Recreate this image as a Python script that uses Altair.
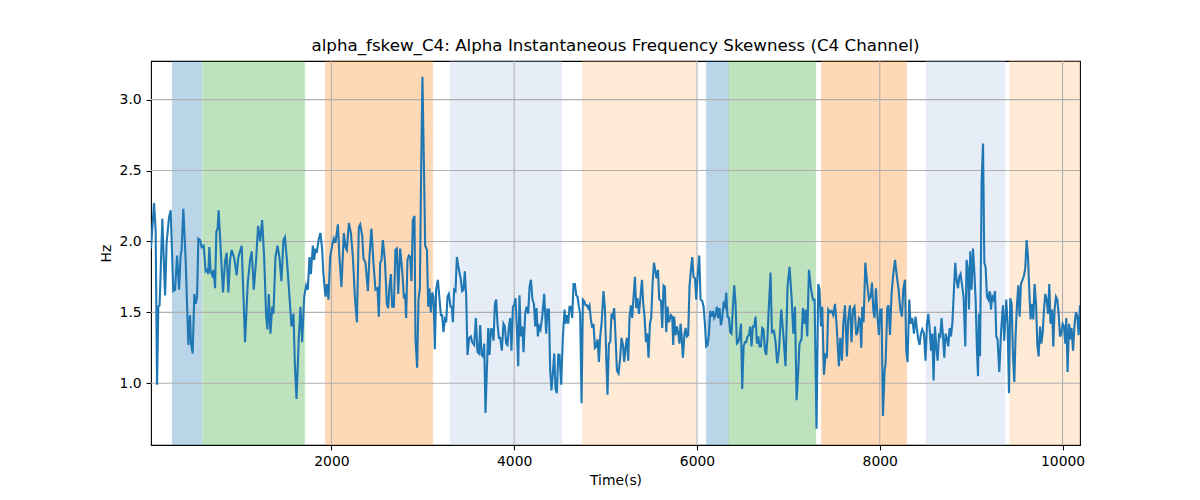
import altair as alt
import pandas as pd

# ---- signal: time (s) and alpha instantaneous-frequency skewness (Hz) ----
time_1 = [26, 59, 77, 92, 106, 120, 150, 180, 197, 223, 241, 270, 289, 311, 333, 350, 361, 380, 405, 435,
          453, 464, 482, 500, 515, 530, 544, 563, 580, 602, 624, 639, 654, 664, 679, 697, 712, 727, 741, 755,
          766, 785, 814, 836, 854, 872, 891, 909, 938, 963, 982, 1018, 1055, 1084, 1110, 1128]
hz_1 = [1.95, 2.27, 2.08, 0.99, 1.54, 1.55, 2.16, 1.62, 1.99, 2.17, 2.22, 1.65, 1.66, 1.90, 1.66, 1.90, 1.94, 2.23, 1.87, 1.27,
        1.48, 1.28, 1.21, 1.63, 1.56, 1.61, 2.02, 2.01, 1.96, 1.97, 1.79, 1.80, 1.77, 1.96, 1.79, 1.76, 1.80, 1.67, 2.07, 2.09,
        2.22, 1.99, 1.64, 1.86, 1.92, 1.64, 1.87, 1.94, 1.88, 1.76, 1.89, 1.97, 1.29, 1.70, 1.87, 1.93]

time_2 = [1151, 1176, 1198, 1220, 1242, 1264, 1286, 1300, 1315, 1333, 1352, 1366, 1388, 1410, 1431, 1453, 1475, 1491, 1512, 1534,
          1563, 1585, 1600, 1618, 1644, 1661, 1680, 1702, 1724, 1742, 1760, 1775, 1797, 1811, 1825, 1841, 1863, 1880, 1899, 1913,
          1935, 1950, 1968, 1986, 2008, 2027, 2044, 2071, 2088, 2110, 2136, 2154, 2169, 2191, 2213, 2235, 2257]
hz_2 = [1.66, 1.87, 2.11, 2.00, 2.15, 1.89, 1.47, 1.38, 1.63, 1.35, 1.54, 1.49, 1.89, 1.97, 1.89, 1.72, 2.01, 2.03, 1.88, 1.68,
        1.40, 1.49, 1.14, 0.89, 1.33, 1.54, 1.29, 1.61, 1.69, 1.66, 1.89, 1.77, 1.97, 1.87, 1.94, 1.93, 2.02, 2.06, 1.94, 1.77,
        1.61, 1.70, 1.59, 1.89, 1.97, 2.02, 1.99, 2.12, 1.89, 1.68, 2.06, 1.96, 1.94, 2.13, 2.06, 1.89, 1.61]

time_3 = [2279, 2300, 2315, 2337, 2351, 2373, 2399, 2416, 2438, 2460, 2482, 2504, 2519, 2534, 2548, 2563, 2585, 2607, 2621, 2635,
          2651, 2665, 2683, 2701, 2716, 2731, 2752, 2774, 2793, 2807, 2818, 2832, 2848, 2862, 2876, 2891, 2909, 2920, 2938, 2953,
          2968, 2982, 2996, 3012, 3026, 3045, 3059, 3073, 3088, 3103, 3117, 3132, 3146, 3165, 3183, 3198, 3212, 3226, 3242, 3256,
          3270, 3285, 3303, 3318, 3329, 3343, 3358, 3373, 3395, 3412]
hz_3 = [1.43, 2.10, 2.12, 2.04, 1.88, 1.85, 1.65, 1.89, 2.09, 1.85, 1.66, 1.67, 1.47, 1.85, 1.87, 2.01, 1.87, 1.56, 1.53, 1.68,
        1.77, 1.54, 1.54, 1.94, 1.95, 1.63, 1.95, 1.80, 1.61, 1.62, 1.46, 1.87, 1.90, 1.89, 1.72, 2.15, 2.18, 1.31, 1.11, 1.59,
        1.67, 2.50, 3.16, 2.55, 1.97, 1.94, 1.54, 1.67, 1.50, 1.64, 1.61, 1.24, 1.66, 1.73, 1.59, 1.48, 1.48, 1.36, 1.45, 1.43,
        1.61, 1.63, 1.54, 1.54, 1.43, 1.66, 1.65, 1.89, 1.80, 1.75]

time_4 = [3431, 3445, 3460, 3475, 3489, 3508, 3526, 3540, 3562, 3581, 3598, 3614, 3628, 3642, 3657, 3672, 3686, 3701, 3716, 3730,
          3745, 3759, 3774, 3789, 3803, 3817, 3833, 3847, 3865, 3883, 3898, 3912, 3927, 3942, 3956, 3970, 3986, 4000, 4014, 4030,
          4044, 4058, 4073, 4088, 4102, 4120, 4135, 4153, 4168, 4183, 4200, 4216, 4230, 4244, 4259, 4274, 4288, 4307, 4328, 4350,
          4364, 4380, 4394, 4408, 4424, 4438, 4452, 4467, 4482, 4496, 4514, 4533, 4551]
hz_4 = [1.65, 1.66, 1.79, 1.61, 1.20, 1.32, 1.33, 1.29, 1.27, 1.46, 1.22, 1.21, 1.41, 1.20, 1.19, 1.28, 0.79, 1.09, 1.39, 1.20,
        1.38, 1.38, 1.30, 1.56, 1.59, 1.42, 1.32, 1.32, 1.23, 1.42, 1.40, 1.28, 1.27, 1.40, 1.46, 1.23, 1.54, 1.55, 1.60, 1.38,
        1.12, 1.62, 1.33, 1.40, 1.22, 1.49, 1.54, 1.49, 1.68, 1.73, 1.59, 1.56, 1.40, 1.53, 1.33, 1.40, 1.38, 1.47, 1.63, 1.35,
        1.52, 1.52, 1.09, 0.95, 1.08, 1.21, 0.96, 0.93, 1.20, 1.20, 0.99, 1.33, 1.52]

time_5 = [4561, 4577, 4591, 4605, 4621, 4635, 4649, 4664, 4679, 4693, 4708, 4722, 4737, 4752, 4766, 4780, 4796, 4810, 4824, 4839,
          4854, 4868, 4883, 4897, 4912, 4927, 4941, 4956, 4977, 4993, 5007, 5021, 5036, 5051, 5065, 5080, 5094, 5109, 5124, 5142,
          5160, 5174, 5190, 5204, 5218, 5233, 5248, 5262, 5277, 5291, 5306, 5321, 5335, 5349, 5365, 5379, 5398, 5412, 5426, 5442,
          5456, 5470, 5485, 5499, 5514, 5529, 5543, 5557, 5573, 5587, 5606, 5620, 5634, 5649, 5664, 5678]
hz_5 = [1.42, 1.48, 1.42, 1.54, 1.54, 1.46, 1.70, 1.70, 1.62, 1.61, 1.54, 1.49, 0.86, 1.59, 1.58, 1.55, 1.55, 1.53, 1.55, 1.45,
        1.39, 1.42, 1.25, 1.26, 1.31, 1.15, 1.33, 1.42, 1.65, 1.52, 1.19, 0.92, 1.28, 1.29, 1.49, 1.47, 1.53, 1.33, 1.09, 1.07,
        1.18, 1.32, 1.27, 1.15, 1.25, 1.32, 1.16, 1.47, 1.55, 1.46, 1.61, 1.75, 1.53, 1.60, 1.49, 1.59, 1.73, 1.56, 1.47, 1.29,
        1.35, 1.18, 1.42, 1.46, 1.70, 1.85, 1.80, 1.74, 1.80, 1.59, 1.58, 1.39, 1.69, 1.68, 1.36, 1.54]

time_6 = [5693, 5715, 5729, 5740, 5751, 5765, 5781, 5795, 5809, 5820, 5831, 5846, 5861, 5875, 5890, 5904, 5918, 5934, 5948, 5962,
          5978, 5992, 6006, 6025, 6039, 6058, 6072, 6087, 6101, 6116, 6131, 6145, 6159, 6175, 6189, 6203, 6218, 6233, 6247, 6262,
          6276, 6291, 6306, 6320, 6334, 6350, 6364, 6378, 6393, 6408, 6422, 6437, 6452, 6466, 6481, 6495, 6510, 6525, 6539, 6553,
          6569, 6583, 6597, 6612, 6627, 6641, 6656, 6671, 6685, 6700, 6714, 6728, 6744, 6758, 6772, 6788, 6805, 6820]
hz_6 = [1.43, 1.48, 1.47, 1.27, 1.47, 1.34, 1.40, 1.35, 1.28, 1.42, 1.35, 1.18, 1.33, 1.39, 1.33, 1.34, 1.68, 1.80, 1.89, 1.75,
        1.74, 1.59, 1.75, 1.90, 1.59, 1.58, 1.54, 1.42, 1.26, 1.27, 1.35, 1.51, 1.47, 1.51, 1.46, 1.48, 1.54, 1.46, 1.53, 1.41,
        1.46, 1.56, 1.54, 1.64, 1.47, 1.46, 1.36, 1.35, 1.54, 1.69, 1.56, 1.28, 1.29, 1.33, 1.42, 0.96, 1.26, 1.29, 1.29, 1.33,
        1.34, 1.40, 1.26, 1.40, 1.40, 1.47, 1.28, 1.33, 1.26, 1.26, 1.39, 1.38, 1.23, 1.20, 1.33, 1.56, 1.78, 1.36]

time_7 = [6842, 6860, 6878, 6897, 6922, 6944, 6969, 6991, 7013, 7035, 7054, 7072, 7090, 7108, 7122, 7144, 7159, 7174, 7188, 7207,
          7225, 7247, 7269, 7287, 7308, 7327, 7341, 7357, 7371, 7389, 7407, 7422, 7436, 7455, 7473, 7491, 7510, 7527, 7553, 7568,
          7586, 7601, 7619, 7641, 7655, 7674, 7691, 7707, 7724, 7743, 7757, 7773, 7784, 7798, 7809, 7823, 7842, 7863, 7882, 7900,
          7915, 7929, 7943, 7958]
hz_7 = [1.37, 1.29, 1.14, 1.23, 1.52, 1.35, 1.12, 1.68, 1.82, 1.61, 1.35, 1.54, 0.88, 1.09, 1.28, 1.31, 1.53, 1.42, 1.52, 1.33,
        1.80, 1.67, 1.59, 1.59, 0.68, 1.70, 1.66, 1.40, 1.54, 1.06, 1.20, 1.19, 1.52, 1.50, 1.51, 1.48, 1.56, 1.42, 1.12, 1.32,
        1.16, 1.42, 1.55, 1.19, 1.45, 1.55, 1.29, 1.52, 1.54, 1.34, 1.36, 1.46, 1.45, 1.25, 1.54, 1.43, 1.85, 1.70, 1.59, 1.61,
        1.71, 1.52, 1.46, 1.67]

time_8 = [7976, 7991, 8006, 8020, 8035, 8053, 8064, 8082, 8096, 8112, 8129, 8148, 8167, 8184, 8206, 8225, 8243, 8257, 8276, 8290,
          8304, 8323, 8337, 8356, 8374, 8392, 8407, 8421, 8436, 8450, 8465, 8484, 8501, 8517, 8531, 8545, 8561, 8575, 8589, 8604,
          8618, 8633, 8648, 8662, 8676, 8692, 8706, 8720, 8736, 8750, 8764, 8779, 8794, 8808, 8826, 8840, 8856, 8870, 8884, 8903,
          8917, 8936, 8950, 8965, 8976, 8990, 9005, 9020, 9034, 9049, 9064, 9075, 9086, 9097]
hz_8 = [1.46, 1.34, 1.52, 1.52, 0.77, 1.09, 1.14, 1.53, 1.55, 1.34, 1.63, 1.77, 1.87, 1.77, 1.66, 1.52, 1.47, 1.66, 1.73, 1.23,
        1.15, 1.59, 1.42, 1.46, 1.35, 1.47, 1.38, 1.31, 1.27, 1.35, 1.38, 1.35, 1.16, 1.42, 1.49, 1.39, 1.23, 1.35, 1.02, 1.40,
        1.26, 1.16, 1.34, 1.33, 1.46, 1.33, 1.18, 1.35, 1.31, 1.26, 1.39, 1.33, 1.42, 1.61, 1.85, 1.73, 1.67, 1.75, 1.77, 1.68,
        1.61, 1.26, 1.87, 1.80, 1.52, 1.93, 1.66, 1.95, 1.80, 1.59, 1.23, 1.05, 1.49, 1.19]

time_9 = [9115, 9130, 9144, 9158, 9173, 9188, 9202, 9217, 9231, 9245, 9261, 9275, 9289, 9308, 9327, 9348, 9362, 9384, 9399, 9414,
          9428, 9443, 9458, 9472, 9486, 9502, 9516, 9530, 9545, 9563, 9578, 9592, 9607, 9622, 9636, 9650, 9666, 9680, 9694, 9710,
          9724, 9738, 9754, 9768, 9782, 9797, 9811, 9826, 9841, 9855, 9869, 9885, 9899, 9913, 9928, 9943, 9957, 9972, 9986, 10001,
          10016, 10030, 10041, 10055, 10071, 10085, 10099, 10115, 10132, 10147, 10162, 10176, 10191]
hz_9 = [2.43, 2.69, 1.85, 1.82, 1.61, 1.59, 1.65, 1.52, 1.61, 1.59, 1.65, 1.33, 1.31, 1.08, 1.36, 1.55, 1.30, 1.59, 1.42, 0.93,
        1.60, 1.56, 1.19, 1.01, 1.33, 1.56, 1.69, 1.47, 1.70, 1.73, 1.76, 1.81, 2.01, 1.89, 1.66, 1.45, 1.56, 1.45, 1.70, 1.56,
        1.27, 1.19, 1.40, 1.28, 1.35, 1.52, 1.63, 1.59, 1.49, 1.70, 1.42, 1.52, 1.26, 1.52, 1.61, 1.59, 1.49, 1.33, 1.35, 1.42,
        1.40, 1.28, 1.46, 1.08, 1.42, 1.31, 1.39, 1.23, 1.42, 1.50, 1.47, 1.34, 1.55]

# ---- shaded intervals ----
span_start = [257, 588, 1931, 3299, 4744, 6101, 6345, 7359, 8505, 9420]
span_end = [582, 1709, 3110, 4522, 5991, 6345, 7301, 8297, 9373, 10191]
span_kind = ["k1", "k2", "k3", "k4", "k5", "k1", "k2", "k3", "k4", "k5"]
kind_order = ["k1", "k2", "k3", "k4", "k5"]

# ---- axis ticks ----
x_ticks = [2000, 4000, 6000, 8000, 10000]
y_ticks = [1.0, 1.5, 2.0, 2.5, 3.0]
x_domain = [26, 10191]
y_domain = [0.565, 3.272]

times = time_1 + time_2 + time_3 + time_4 + time_5 + time_6 + time_7 + time_8 + time_9
values = hz_1 + hz_2 + hz_3 + hz_4 + hz_5 + hz_6 + hz_7 + hz_8 + hz_9
sig = pd.DataFrame({"t": times, "hz": values})
spans = pd.DataFrame({"start": span_start, "end": span_end, "kind": span_kind})
xt = pd.DataFrame({"x": x_ticks})
yt = pd.DataFrame({"y": y_ticks})

W, H = 929, 384
xscale = alt.Scale(domain=x_domain, nice=False, zero=False)
yscale = alt.Scale(domain=y_domain, nice=False, zero=False)
xaxis = alt.Axis(title="Time(s)", values=x_ticks, format="d", titlePadding=5)
yaxis = alt.Axis(title="Hz", values=y_ticks, format=".1f", titlePadding=6)
palette = ["#1f77b4", "#2ca02c", "#ff7f0e", "#aec7e8", "#ffbb78"]

span_layer = alt.Chart(spans).mark_rect(opacity=0.3, strokeWidth=1, strokeOpacity=0.3).encode(
    x=alt.X("start:Q", scale=xscale, axis=xaxis),
    x2="end:Q",
    y=alt.value(0),
    y2=alt.value(H),
    fill=alt.Fill("kind:N", legend=None, scale=alt.Scale(domain=kind_order, range=palette)),
    stroke=alt.Stroke("kind:N", legend=None, scale=alt.Scale(domain=kind_order, range=palette)),
)

xgrid = alt.Chart(xt).mark_rule(color="#b0b0b0", strokeWidth=1.1).encode(
    x=alt.X("x:Q", scale=xscale, axis=xaxis)
)
ygrid = alt.Chart(yt).mark_rule(color="#b0b0b0", strokeWidth=1.1).encode(
    y=alt.Y("y:Q", scale=yscale, axis=yaxis)
)

line = alt.Chart(sig).mark_line(color="#1f77b4", strokeWidth=2.1, clip=True).encode(
    x=alt.X("t:Q", scale=xscale, axis=xaxis),
    y=alt.Y("hz:Q", scale=yscale, axis=yaxis),
)

chart = alt.layer(span_layer, xgrid, ygrid, line).properties(
    width=W,
    height=H,
    title=alt.TitleParams(
        "alpha_fskew_C4: Alpha Instantaneous Frequency Skewness (C4 Channel)",
        font="DejaVu Sans", fontSize=16.7, fontWeight="normal", color="black",
        anchor="middle", frame="group", offset=-7, baseline="alphabetic",
    ),
    autosize=alt.AutoSizeParams(type="none"),
    padding={"left": 143, "top": 53, "right": 100, "bottom": 45},
).configure_view(
    stroke="black", strokeWidth=1.1
).configure_axis(
    grid=False, domain=False,
    labelFont="DejaVu Sans", labelFontSize=13.9, labelColor="black",
    tickColor="black", tickSize=4.9, tickWidth=1.1, labelPadding=4.9,
    titleFont="DejaVu Sans", titleFontSize=13.9, titleFontWeight="normal", titleColor="black",
)

chart.save("out.html", embed_options={"renderer": "svg", "actions": False})
